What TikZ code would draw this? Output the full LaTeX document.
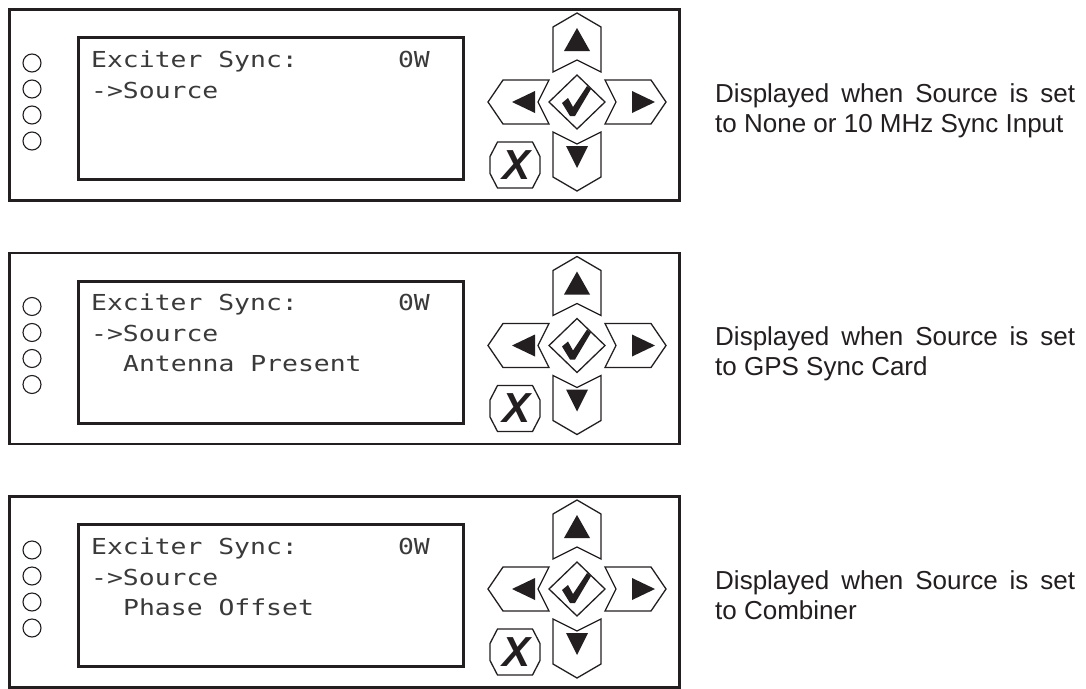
\documentclass[tikz,border=0pt]{standalone}
\usepackage{fontspec}
\setmainfont{Liberation Sans}
\newfontfamily\lcdfont{DejaVu Sans Mono}[FakeStretch=1.2]
\definecolor{ink}{HTML}{231F20}
\definecolor{lcdink}{HTML}{3A3A3A}
\tikzset{
  frame/.style={draw=ink, line width=2.8pt, inner sep=0pt, anchor=north west},
  lcd/.style={draw=ink, line width=3.4pt, inner sep=0pt, anchor=north west},
  key/.style={draw=ink, line width=1.3pt, fill=white, line join=miter},
  led/.style={draw=ink, line width=1.1pt, circle, minimum size=18pt, inner sep=0pt},
  lcdtext/.style={font=\lcdfont\fontsize{22}{22}\selectfont, text=lcdink, inner sep=0pt, anchor=base west},
  desc/.style={font=\fontsize{26}{30}\selectfont, text=ink, inner sep=0pt, anchor=base west},
  tri/.style={fill=ink, draw=none},
}
\newcommand\drawpanel[4]{%
  \begin{scope}[shift={(0,#2)}]
    \node[frame, minimum width=670pt, minimum height=191pt] (frame#1) at (8,1) {};
    \node[lcd, minimum width=385pt, minimum height=142pt] (lcd#1) at (77,29) {};
    \node[led] (leda#1) at (32,56) {};
    \node[led] (ledb#1) at (32,82) {};
    \node[led] (ledc#1) at (32,108) {};
    \node[led] (ledd#1) at (32,134) {};
    \node[lcdtext] (la#1) at (91,60) {Exciter Sync:};
    \node[lcdtext, anchor=base east] (lw#1) at (430,60) {0W};
    \node[lcdtext] (lb#1) at (91,91) {->Source};
    \node[lcdtext] (lc#1) at (123,121) {#3};
    \begin{scope}[shift={(577,95)}]
      \draw[key] (0,-89) -- (24,-75) -- (24,-30) -- (0,-42) -- (-24,-30) -- (-24,-75) -- cycle;
      \draw[key] (0,89) -- (24,75) -- (24,30) -- (0,42) -- (-24,30) -- (-24,75) -- cycle;
      \draw[key] (-89,0) -- (-74,-22) -- (-28,-22) -- (-39,0) -- (-28,22) -- (-74,22) -- cycle;
      \draw[key] (89,0) -- (74,-22) -- (28,-22) -- (39,0) -- (28,22) -- (74,22) -- cycle;
      \draw[key] (-28,0) -- (0,-27) -- (28,0) -- (0,27) -- cycle;
      \fill[tri] (0,-74) -- (13,-51) -- (-13,-51) -- cycle;
      \fill[tri] (0,66) -- (11,44) -- (-11,44) -- cycle;
      \fill[tri] (-65,0) -- (-42,-11) -- (-42,11) -- cycle;
      \fill[tri] (78,0) -- (55,-11) -- (55,11) -- cycle;
      \fill[ink] (-15,1) -- (-9,-4) -- (-4,5) -- (10,-16) -- (14,-13) -- (-2,14) -- (-7,14) -- cycle;
      \draw[key] (-87,54.5) -- (-79.5,40) -- (-44.5,40) -- (-37,54.5) -- (-37,71.5) -- (-44.5,86) -- (-79.5,86) -- (-87,71.5) -- cycle;
      \node[font=\fontsize{42}{42}\selectfont\bfseries\itshape, text=ink, inner sep=0pt] (x#1) at (-61,63) {X};
    \end{scope}
    \node[desc] (da#1) at (715,95) {\makebox[360pt][s]{Displayed when Source is set}};
    \node[desc] (db#1) at (715,125) {#4};
  \end{scope}}
\begin{document}
\begin{tikzpicture}[x=1pt,y=-1pt]
  \useasboundingbox[fill=white] (0,0) rectangle (1086,688);
  \drawpanel{1}{7}{}{to None or 10 MHz Sync Input}
  \drawpanel{2}{250.5}{Antenna Present}{to GPS Sync Card}
  \drawpanel{3}{494}{Phase Offset}{to Combiner}
\end{tikzpicture}
\end{document}
